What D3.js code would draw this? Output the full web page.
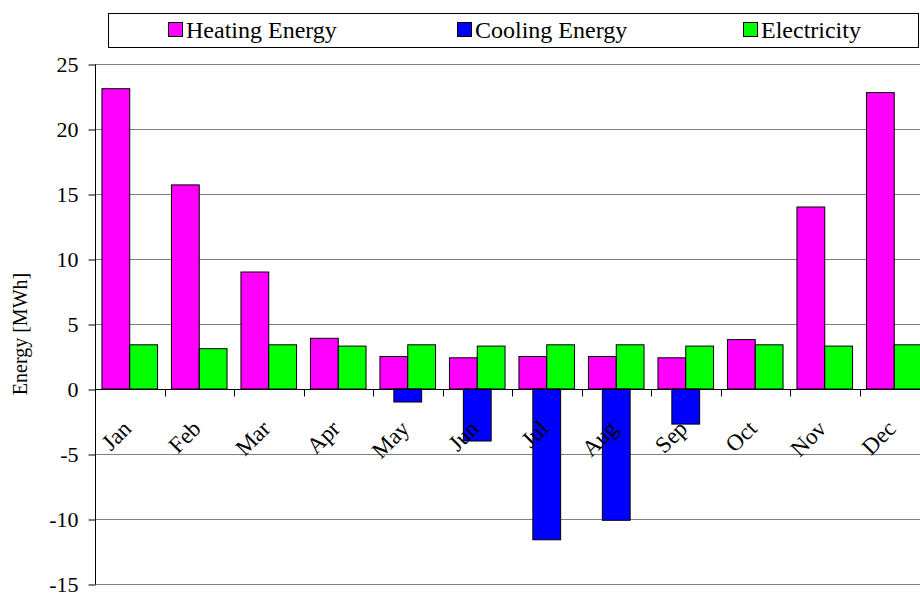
<!DOCTYPE html>
<html>
<head>
<meta charset="utf-8">
<script src="https://cdn.jsdelivr.net/npm/d3@7/dist/d3.min.js"></script>
<style>
  html, body { margin: 0; padding: 0; background: #fff; }
  svg { display: block; overflow: hidden; }
  svg text { font-family: "Liberation Serif", "Times New Roman", serif !important; fill: #000; }
</style>
</head>
<body>
<svg id="chart" width="920" height="599"></svg>
<script>
// Monthly building energy balance, in MWh
const months = ["Jan", "Feb", "Mar", "Apr", "May", "Jun", "Jul", "Aug", "Sep", "Oct", "Nov", "Dec"];
const heating = [23.1, 15.7, 9.0, 3.9, 2.5, 2.4, 2.5, 2.5, 2.4, 3.8, 14.0, 22.8];
const cooling = [0, 0, 0, 0, -1.0, -4.0, -11.6, -10.1, -2.7, 0, 0, 0];
const electricity = [3.4, 3.1, 3.4, 3.3, 3.4, 3.3, 3.4, 3.4, 3.3, 3.4, 3.3, 3.4];
const yTicks = [-15, -10, -5, 0, 5, 10, 15, 20, 25];
const seriesNames = ["Heating Energy", "Cooling Energy", "Electricity"];
const seriesColors = ["#ff00ff", "#0000ff", "#00ff00"];

const serif = "Liberation Serif, Times New Roman, serif";
const svg = d3.select("#chart").attr("font-family", serif);
const plot = { left: 95, right: 929, top: 64, bottom: 584 };

const x = d3.scaleBand().domain(months).range([plot.left, plot.right]).padding(0);
const y = d3.scaleLinear().domain([-15, 25]).range([plot.bottom, plot.top]);
const barW = x.bandwidth() * 0.4;

// horizontal gridlines
svg.append("g")
  .selectAll("line")
  .data(yTicks)
  .join("line")
  .attr("x1", plot.left)
  .attr("x2", plot.right)
  .attr("y1", d => Math.round(y(d)) + 0.5)
  .attr("y2", d => Math.round(y(d)) + 0.5)
  .attr("stroke", "#808080")
  .attr("stroke-width", 1);

// value axis (plain hyphen for negatives)
const yAxis = svg.append("g")
  .attr("transform", `translate(${plot.left + 0.5},0.5)`)
  .call(d3.axisLeft(y).tickValues(yTicks).tickSize(7).tickPadding(10).tickFormat(d => String(d)));
yAxis.attr("font-family", serif).attr("font-size", 22);
yAxis.select(".domain").attr("stroke", "#000").attr("d", `M0,${y(25)}V${y(-15)}`);
yAxis.selectAll(".tick line").attr("stroke", "#000");
yAxis.selectAll(".tick text")
  .attr("font-size", 22)
  .attr("dy", "0.34em");

// bars
const rows = months.map((m, i) => ({ m, h: heating[i], c: cooling[i], e: electricity[i] }));
const bars = svg.append("g").attr("stroke", "#000").attr("stroke-width", 1);

function bar(sel, offset, key, color) {
  sel.selectAll(null)
    .data(rows.filter(r => r[key] !== 0))
    .join("rect")
    .attr("x", r => x(r.m) + x.bandwidth() / 2 + offset)
    .attr("y", r => y(Math.max(0, r[key])))
    .attr("width", barW)
    .attr("height", r => Math.abs(y(r[key]) - y(0)))
    .attr("fill", color);
}
bar(bars, -barW, "h", seriesColors[0]);
bar(bars, 0, "e", seriesColors[2]);
bar(bars, -barW / 2, "c", seriesColors[1]);

// category axis along zero, with ticks between months
const zeroY = Math.round(y(0)) + 0.5;
const bounds = months.map(m => x(m)).concat([x(months[months.length - 1]) + x.bandwidth()]);
const xAxis = svg.append("g");
xAxis.append("line")
  .attr("x1", plot.left).attr("x2", plot.right)
  .attr("y1", zeroY).attr("y2", zeroY)
  .attr("stroke", "#000");
xAxis.selectAll("line.tick")
  .data(bounds)
  .join("line")
  .attr("class", "tick")
  .attr("x1", d => Math.round(d) + 0.5).attr("x2", d => Math.round(d) + 0.5)
  .attr("y1", zeroY).attr("y2", zeroY + 7)
  .attr("stroke", "#000");
xAxis.selectAll("text")
  .data(months)
  .join("text")
  .attr("font-size", 23)
  .attr("text-anchor", "end")
  .attr("transform", m => `translate(${x(m) + x.bandwidth() / 2 + 3},${y(0) + 41}) rotate(-45)`)
  .text(m => m);

// value axis title
svg.append("text")
  .attr("font-size", 20)
  .attr("text-anchor", "middle")
  .attr("transform", `translate(27,${(plot.top + plot.bottom) / 2 + 10}) rotate(-90)`)
  .text("Energy [MWh]");

// legend
const legend = svg.append("g");
legend.append("rect")
  .attr("x", 108.5).attr("y", 13.5)
  .attr("width", 810).attr("height", 34)
  .attr("fill", "#fff").attr("stroke", "#000");
const legendX = [168, 457, 743];
const item = legend.selectAll("g.item")
  .data(seriesNames)
  .join("g")
  .attr("class", "item")
  .attr("transform", (d, i) => `translate(${legendX[i]},30)`);
item.append("rect")
  .attr("x", 0.5).attr("y", -7.5)
  .attr("width", 14).attr("height", 14)
  .attr("fill", (d, i) => seriesColors[i])
  .attr("stroke", "#000");
item.append("text")
  .attr("x", 18)
  .attr("y", 8)
  .attr("font-size", 24)
  .text(d => d);
</script>
</body>
</html>
